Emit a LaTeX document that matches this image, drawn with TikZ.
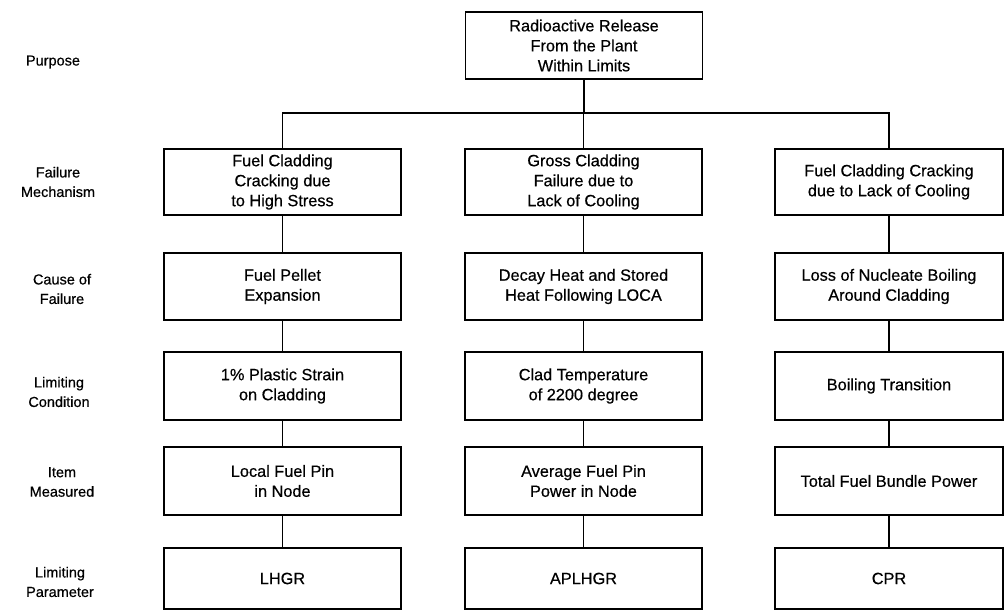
\documentclass[tikz,border=0pt]{standalone}
\usepackage{fontspec}
\setmainfont{Liberation Sans}
\newfontfamily\medfont{Liberation Sans}[FakeBold=0.5]
\begin{document}
\begin{tikzpicture}[x=1pt,y=-1pt,
  box/.style={draw,line width=1.3pt,rectangle,align=center,inner sep=2pt,
    font=\medfont\fontsize{16.3}{20}\selectfont,minimum width=237pt},
  rbox/.style={box,minimum width=228pt},
  h1/.style={minimum height=66pt},
  h2/.style={minimum height=67pt},
  h3/.style={minimum height=68pt},
  h5/.style={minimum height=61pt},
  lab/.style={align=center,font=\medfont\fontsize{14.5}{19.5}\selectfont},
  link/.style={line width=1.2pt}]
\useasboundingbox (0,0) rectangle (1005,613);
% top
\node[box,h2] (top) at (584,45.5) {Radioactive Release\\From the Plant\\Within Limits};
% row labels
\node[lab] (lp) at (53,62) {Purpose};
\node[lab] (lfm) at (58,182) {Failure\\Mechanism};
\node[lab] (lcf) at (62,289) {Cause of\\Failure};
\node[lab] (llc) at (59,392) {Limiting\\Condition};
\node[lab] (lim) at (62,482) {Item\\Measured};
\node[lab] (llp) at (60,582) {Limiting\\Parameter};
% left column
\node[box,h1] (l1) at (282.5,182) {Fuel Cladding\\Cracking due\\to High Stress};
\node[box,h2] (l2) at (282.5,286.5) {Fuel Pellet\\Expansion};
\node[box,h3] (l3) at (282.5,386) {1\% Plastic Strain\\on Cladding};
\node[box,h3] (l4) at (282.5,481) {Local Fuel Pin\\in Node};
\node[box,h5] (l5) at (282.5,578.5) {LHGR};
% middle column
\node[box,h1] (m1) at (583.5,182) {Gross Cladding\\Failure due to\\Lack of Cooling};
\node[box,h2] (m2) at (583.5,286.5) {Decay Heat and Stored\\Heat Following LOCA};
\node[box,h3] (m3) at (583.5,386) {Clad Temperature\\of 2200 degree};
\node[box,h3] (m4) at (583.5,481) {Average Fuel Pin\\Power in Node};
\node[box,h5] (m5) at (583.5,578.5) {APLHGR};
% right column
\node[rbox,h1] (r1) at (889,182) {Fuel Cladding Cracking\\due to Lack of Cooling};
\node[rbox,h2] (r2) at (889,286.5) {Loss of Nucleate Boiling\\Around Cladding};
\node[rbox,h3] (r3) at (889,386) {Boiling Transition};
\node[rbox,h3] (r4) at (889,481) {Total Fuel Bundle Power};
\node[rbox,h5] (r5) at (889,578.5) {CPR};
% bus
\coordinate (bus) at (0,113);
\draw[link] (top.south) -- (top.south |- bus);
\draw[link] (l1.north) -- (l1.north |- bus) -- (r1.north |- bus) -- (r1.north);
\draw[link] (m1.north) -- (m1.north |- bus);
% column links
\foreach \c in {l,m,r}{
  \draw[link] (\c1.south) -- (\c2.north);
  \draw[link] (\c2.south) -- (\c3.north);
  \draw[link] (\c3.south) -- (\c4.north);
  \draw[link] (\c4.south) -- (\c5.north);
}
\end{tikzpicture}
\end{document}
